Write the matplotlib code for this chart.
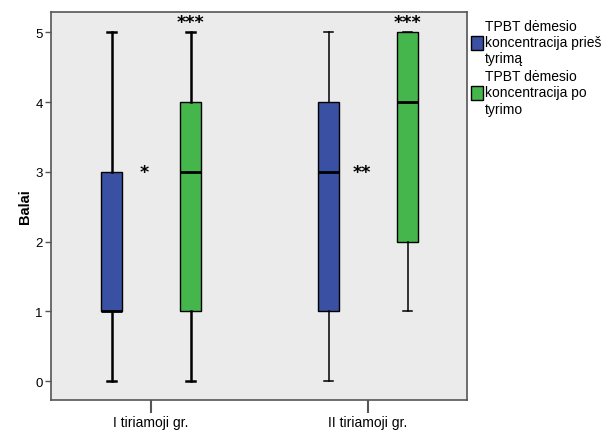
import matplotlib
matplotlib.use("Agg")
import matplotlib.pyplot as plt
from matplotlib.patches import Patch

plt.rcParams['font.family'] = ['Liberation Sans', 'DejaVu Sans']

groups = ["I tiriamoji gr.", "II tiriamoji gr."]
series_names = ["TPBT dėmesio\nkoncentracija prieš\ntyrimą", "TPBT dėmesio\nkoncentracija po\ntyrimo"]
colors = ["#3A50A2", "#45B64B"]
# (whislo, q1, med, q3, whishi) per series per group
before_stats = [(0, 1, 1, 3, 5), (0, 1, 3, 4, 5)]
after_stats = [(0, 1, 3, 4, 5), (1, 2, 4, 5, 5)]
stars_before_after = ["*", "**"]
stars_after = ["***", "***"]
yticks = [0, 1, 2, 3, 4, 5]

fig = plt.figure(figsize=(6.14, 4.31), dpi=100)
ax = fig.add_axes([51/614, 1 - 401/431, (467-51)/614, (401-13)/431])
ax.set_facecolor("#EBEBEB")

offset = 0.182
width = 0.097
whisk_lw = [1.8, 1.1]
for gi in range(len(groups)):
    for si, stats_list in enumerate([before_stats, after_stats]):
        lo, q1, med, q3, hi = stats_list[gi]
        st = [dict(whislo=lo, q1=q1, med=med, q3=q3, whishi=hi, fliers=[])]
        pos = gi + (-offset if si == 0 else offset)
        lw = whisk_lw[gi]
        ax.bxp(st, positions=[pos], widths=width, patch_artist=True,
               showfliers=False, manage_ticks=False,
               boxprops=dict(facecolor=colors[si], edgecolor="black", linewidth=1.0),
               medianprops=dict(color="black", linewidth=2.0),
               whiskerprops=dict(color="black", linewidth=lw),
               capprops=dict(color="black", linewidth=lw),
               capwidths=width * 0.45)
    ax.text(gi - 0.03, 3.0, stars_before_after[gi], ha="center", va="center",
            fontsize=12.5, fontweight="bold", family="DejaVu Sans")
    ax.text(gi + offset, 5.15, stars_after[gi], ha="center", va="center",
            fontsize=12.5, fontweight="bold", family="DejaVu Sans")

ax.set_xlim(-0.461, 1.456)
ax.set_ylim(-0.27, 5.29)
ax.set_xticks(range(len(groups)))
ax.set_xticklabels(groups, fontsize=10)
ax.set_yticks(yticks)
ax.set_yticklabels([str(v) for v in yticks], fontsize=9.5)
ax.tick_params(axis="x", length=9, width=1.5, color="#555555", pad=1.5)
ax.tick_params(axis="y", length=4, width=1.0, color="#555555", pad=2)
for s in ax.spines.values():
    s.set_color("#555555")
    s.set_linewidth(1.2)
ax.set_ylabel("Balai", fontsize=10.5, fontweight="bold", labelpad=2)

handles = [Patch(facecolor=c, edgecolor="black", linewidth=1.0) for c in colors]
fig.legend(handles, series_names, loc="upper left", bbox_to_anchor=(461/614, 1 - 10/431),
           frameon=False, fontsize=10, handlelength=0.9, handleheight=1.2,
           handletextpad=0.15, labelspacing=0.3, borderpad=0.2)

fig.savefig("out.png", dpi=100)
